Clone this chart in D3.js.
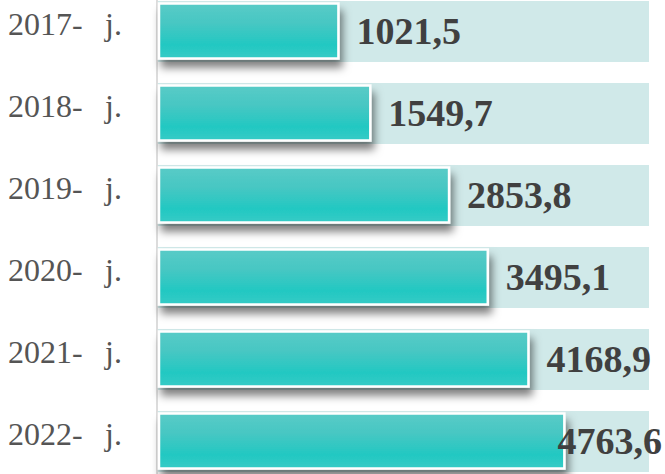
<!DOCTYPE html>
<html>
<head>
<meta charset="utf-8">
<script src="https://cdn.jsdelivr.net/npm/d3@7"></script>
<style>
  html, body { margin: 0; padding: 0; background: #ffffff; }
  svg { display: block; }
</style>
</head>
<body>
<script>
const years = ["2017- j.", "2018- j.", "2019- j.", "2020- j.", "2021- j.", "2022- j."];
const values = [1021.5, 1549.7, 2853.8, 3495.1, 4168.9, 4763.6];
const valueLabels = ["1021,5", "1549,7", "2853,8", "3495,1", "4168,9", "4763,6"];

const W = 665, H = 474;
const axisX = 157;

const svg = d3.select("body").append("svg").attr("width", W).attr("height", H);
const defs = svg.append("defs");

const grad = defs.append("linearGradient").attr("id", "teal").attr("x1", 0).attr("y1", 0).attr("x2", 0).attr("y2", 1);
grad.append("stop").attr("offset", "0%").attr("stop-color", "#58cbc7");
grad.append("stop").attr("offset", "35%").attr("stop-color", "#48c7c3");
grad.append("stop").attr("offset", "75%").attr("stop-color", "#22c8c2");
grad.append("stop").attr("offset", "100%").attr("stop-color", "#36cbc6");

const shadow = defs.append("filter").attr("id", "shadow")
  .attr("x", "-5%").attr("y", "-20%").attr("width", "115%").attr("height", "170%");
shadow.append("feDropShadow").attr("dx", 3).attr("dy", 8).attr("stdDeviation", 4)
  .attr("flood-color", "#000").attr("flood-opacity", 0.5);

const y = d3.scaleBand().domain(years).range([1, 472]).paddingInner(21 / 82).paddingOuter(0);
const x = d3.scaleLinear().domain([-2000, 6000]).range([axisX, 640]);

// axis line
svg.append("line").attr("x1", axisX).attr("x2", axisX).attr("y1", 0).attr("y2", H)
  .attr("stroke", "#dcdcdc").attr("stroke-width", 2);

const rows = svg.selectAll("g.row").data(years).join("g").attr("class", "row");

// background bars
rows.append("rect")
  .attr("x", axisX + 1)
  .attr("y", d => y(d))
  .attr("width", 649 - axisX - 1)
  .attr("height", y.bandwidth())
  .attr("fill", "#d0e9e9");

// front bars
rows.append("rect")
  .attr("x", axisX + 2)
  .attr("y", d => y(d) + 2.5)
  .attr("width", (d, i) => x(values[i]) - axisX - 3)
  .attr("height", y.bandwidth() - 6)
  .attr("fill", "url(#teal)")
  .attr("stroke", "#ffffff")
  .attr("stroke-width", 2.5)
  .attr("filter", "url(#shadow)");

// category labels
rows.append("text")
  .attr("x", 8)
  .attr("y", d => y(d) + y.bandwidth() / 2 + 3.5)
  .attr("font-family", "'Liberation Serif', 'Times New Roman', serif")
  .attr("font-size", 32)
  .attr("fill", "#555555")
  .style("white-space", "pre")
  .text(d => d.replace("- ", "-  \u2009"));

// value labels
rows.append("text")
  .attr("y", d => y(d) + y.bandwidth() / 2 + 12.5)
  .attr("font-family", "'Liberation Serif', 'Times New Roman', serif")
  .attr("font-size", 38)
  .attr("font-weight", "bold")
  .attr("fill", "#404040")
  .text((d, i) => valueLabels[i])
  .attr("x", function (d, i) {
    const w = this.getComputedTextLength();
    return Math.min(x(values[i]) + 17, 662 - w);
  });
</script>
</body>
</html>
